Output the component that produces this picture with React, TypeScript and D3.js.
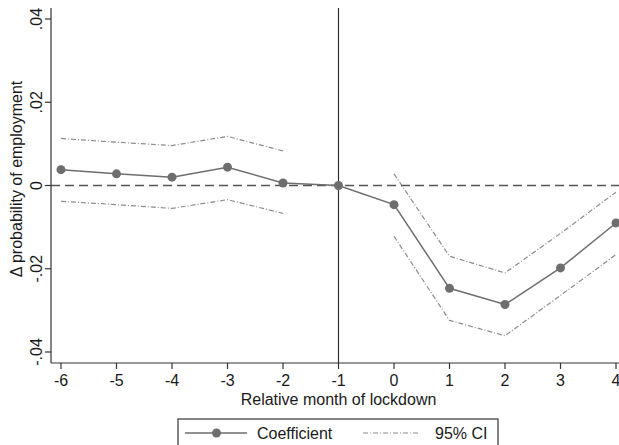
import React from "react";
import * as d3 from "d3";

const months = [-6, -5, -4, -3, -2, -1, 0, 1, 2, 3, 4];
const coef = [0.0038, 0.0028, 0.002, 0.0044, 0.0006, 0, -0.0046, -0.0247, -0.0286, -0.0198, -0.009];
const preMonths = [-6, -5, -4, -3, -2];
const preUpper = [0.0113, 0.0104, 0.0096, 0.0118, 0.0083];
const preLower = [-0.0038, -0.0046, -0.0055, -0.0034, -0.0067];
const postMonths = [0, 1, 2, 3, 4];
const postUpper = [0.0028, -0.017, -0.021, -0.0115, -0.0016];
const postLower = [-0.0122, -0.0324, -0.0361, -0.0264, -0.0166];
const yTicks = [-0.04, -0.02, 0, 0.02, 0.04];
const yTickLabels = ["-.04", "-.02", "0", ".02", ".04"];
const xTicks = [-6, -5, -4, -3, -2, -1, 0, 1, 2, 3, 4];

export default function App() {
  const W = 619, H = 445;
  const x = d3.scaleLinear().domain([-6, 4]).range([61, 616]);
  const y = d3.scaleLinear().domain([-0.04, 0.04]).range([352, 19]);
  const axisLeft = 51, axisBottom = 363;
  const font = "'Liberation Sans', Arial, Helvetica, sans-serif";
  const fs = 16;
  const line = d3.line<[number, number]>().x(d => x(d[0])).y(d => y(d[1]));
  const coefPts = months.map((m, i) => [m, coef[i]] as [number, number]);
  const ciColor = "#8c8c8c";
  const ciDash = "5 2 1 2";
  const lineColor = "#6e6e6e";
  const ciPaths = [
    preMonths.map((m, i) => [m, preUpper[i]] as [number, number]),
    preMonths.map((m, i) => [m, preLower[i]] as [number, number]),
    postMonths.map((m, i) => [m, postUpper[i]] as [number, number]),
    postMonths.map((m, i) => [m, postLower[i]] as [number, number]),
  ];
  return (
    <svg width={W} height={H} style={{ position: "absolute", left: 0, top: 0, background: "#fff" }} fontFamily={font}>
      <rect x={0} y={0} width={W} height={H} fill="#fff" />
      {ciPaths.map((p, i) => (
        <path key={i} d={line(p) || ""} fill="none" stroke={ciColor} strokeWidth={1.2} strokeDasharray={ciDash} />
      ))}
      <line x1={axisLeft} x2={W} y1={y(0)} y2={y(0)} stroke="#555" strokeWidth={1.6} strokeDasharray="9 5" />
      <line x1={x(-1)} x2={x(-1)} y1={8} y2={axisBottom} stroke="#333" strokeWidth={1.2} />
      <path d={line(coefPts) || ""} fill="none" stroke={lineColor} strokeWidth={1.5} />
      {coefPts.map((p, i) => (
        <circle key={i} cx={x(p[0])} cy={y(p[1])} r={4.5} fill={lineColor} />
      ))}
      <line x1={axisLeft} x2={axisLeft} y1={8} y2={axisBottom} stroke="#333" strokeWidth={1.2} />
      <line x1={axisLeft} x2={W} y1={axisBottom} y2={axisBottom} stroke="#333" strokeWidth={1.2} />
      {yTicks.map((t, i) => (
        <g key={t}>
          <line x1={axisLeft - 6} x2={axisLeft} y1={y(t)} y2={y(t)} stroke="#333" strokeWidth={1.2} />
          <text transform={`translate(${axisLeft - 9},${y(t)}) rotate(-90)`} textAnchor="middle" fontSize={fs} fill="#1a1a1a">
            {yTickLabels[i]}
          </text>
        </g>
      ))}
      {xTicks.map(t => (
        <g key={t}>
          <line x1={x(t)} x2={x(t)} y1={axisBottom} y2={axisBottom + 6} stroke="#333" strokeWidth={1.2} />
          <text x={x(t)} y={axisBottom + 23} textAnchor="middle" fontSize={fs} fill="#1a1a1a">{t}</text>
        </g>
      ))}
      <text transform={`translate(22,179) rotate(-90)`} textAnchor="middle" fontSize={fs} fill="#1a1a1a">
        Δ probability of employment
      </text>
      <text x={x(-1)} y={405} textAnchor="middle" fontSize={fs} fill="#1a1a1a">Relative month of lockdown</text>
      <rect x={178} y={419} width={320} height={40} fill="#fff" stroke="#333" strokeWidth={1.2} />
      <line x1={185} x2={247} y1={433} y2={433} stroke={lineColor} strokeWidth={1.5} />
      <circle cx={216.5} cy={433} r={4.5} fill={lineColor} />
      <text x={257} y={438.5} fontSize={fs} fill="#1a1a1a">Coefficient</text>
      <line x1={363} x2={418} y1={433} y2={433} stroke={ciColor} strokeWidth={1.2} strokeDasharray={ciDash} />
      <text x={435} y={438.5} fontSize={fs} fill="#1a1a1a">95% CI</text>
    </svg>
  );
}
